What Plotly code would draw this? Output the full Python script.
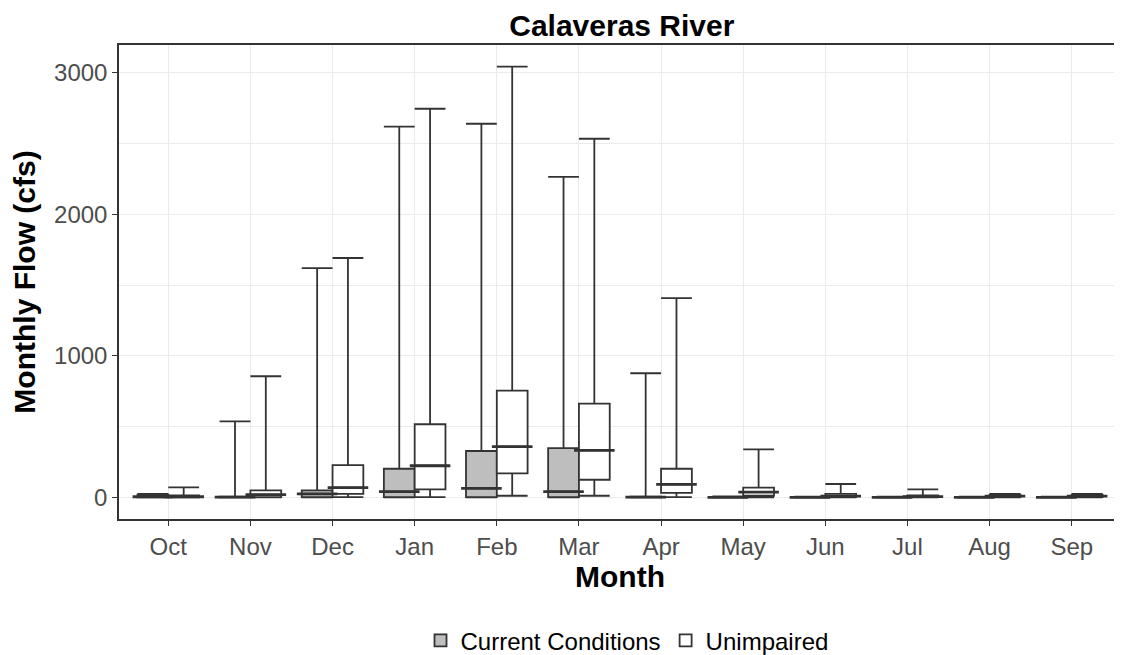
import plotly.graph_objects as go

months = ["Oct", "Nov", "Dec", "Jan", "Feb", "Mar", "Apr", "May", "Jun", "Jul", "Aug", "Sep"]

# Current Conditions box statistics (cfs)
cur_min = [0, 0, 0, 0, 0, 0, 0, 0, 0, 0, 0, 0]
cur_q1 = [0, 0, 2, 3, 3, 3, 0, 0, 0, 0, 0, 0]
cur_med = [5, 2, 25, 42, 64, 42, 2, 1, 1, 1, 1, 1]
cur_q3 = [20, 6, 50, 203, 328, 349, 5, 3, 3, 3, 3, 3]
cur_max = [26, 538, 1620, 2618, 2639, 2264, 877, 8, 6, 6, 5, 6]

# Unimpaired box statistics (cfs)
uni_min = [0, 0, 2, 2, 12, 12, 2, 0, 0, 0, 0, 0]
uni_q1 = [1, 3, 26, 57, 170, 125, 33, 12, 3, 2, 3, 3]
uni_med = [5, 20, 70, 224, 359, 333, 92, 38, 10, 6, 10, 10]
uni_q3 = [14, 50, 228, 517, 755, 663, 203, 69, 26, 14, 20, 20]
uni_max = [71, 856, 1691, 2745, 3043, 2533, 1408, 340, 95, 57, 26, 25]

y_ticks = [0, 1000, 2000, 3000]

dodge = 0.1875
box_w = 0.375
line_col = "#333333"
font_fam = "Liberation Sans, Arial, sans-serif"

idx = list(range(len(months)))
x_cur = [i - dodge for i in idx]
x_uni = [i + dodge for i in idx]

fig = go.Figure()
series = [
    ("Current Conditions", x_cur, cur_min, cur_q1, cur_med, cur_q3, cur_max, "#BEBEBE"),
    ("Unimpaired", x_uni, uni_min, uni_q1, uni_med, uni_q3, uni_max, "#FFFFFF"),
]
for name, xs, mn, q1, md, q3, mx, fill in series:
    fig.add_trace(go.Box(
        name=name, x=xs, q1=q1, median=md, q3=q3,
        lowerfence=mn, upperfence=mx,
        width=box_w, whiskerwidth=1, boxpoints=False,
        fillcolor=fill, line=dict(color=line_col, width=1.8),
        hoverinfo="y",
    ))
    # thicker median line (ggplot fatten)
    fig.add_trace(go.Scatter(
        x=xs, y=md, mode="markers", showlegend=False, hoverinfo="skip",
        marker=dict(symbol="line-ew", size=29, color=line_col,
                    line=dict(color=line_col, width=2.8)),
    ))

fig.update_layout(
    width=1114, height=647,
    paper_bgcolor="white", plot_bgcolor="white",
    margin=dict(l=111, r=1, t=37, b=136, autoexpand=False),
    font=dict(family=font_fam, color="#000000"),
    title=dict(text="<b>Calaveras River</b>", x=0.551, xanchor="center",
               y=0.9737, yanchor="middle", yref="container", automargin=False,
               font=dict(size=30, color="black")),
    showlegend=True,
    legend=dict(orientation="h", x=0.507, xanchor="center", y=-0.257, yanchor="middle",
                font=dict(size=24, color="black"), itemwidth=30,
                traceorder="normal"),
    boxmode="overlay",
)
fig.update_xaxes(
    range=[-0.6, 11.6], tickmode="array", tickvals=idx, ticktext=months,
    showgrid=True, gridcolor="#EBEBEB", gridwidth=1.2, automargin=False,
    showline=True, linecolor=line_col, linewidth=1.5, mirror=True,
    ticks="outside", ticklen=5, tickcolor=line_col, tickwidth=1.2,
    tickfont=dict(size=24, color="#4D4D4D", family=font_fam),
    title=dict(text="<b>Month</b>", font=dict(size=30, color="black"), standoff=6),
    zeroline=False,
)
fig.update_yaxes(
    range=[-152, 3195], tickmode="array", tickvals=y_ticks,
    showgrid=True, gridcolor="#EBEBEB", gridwidth=1.2, automargin=False,
    minor=dict(tickmode="array", tickvals=[500, 1500, 2500], showgrid=True,
               gridcolor="#EBEBEB", gridwidth=1, ticks=""),
    showline=True, linecolor=line_col, linewidth=1.5, mirror=True,
    ticks="outside", ticklen=5, tickcolor=line_col, tickwidth=1.2,
    tickfont=dict(size=24, color="#4D4D4D", family=font_fam),
    title=dict(text="<b>Monthly Flow (cfs)</b>", font=dict(size=30, color="black"), standoff=10),
    zeroline=False,
)

fig.write_html("out.html")
